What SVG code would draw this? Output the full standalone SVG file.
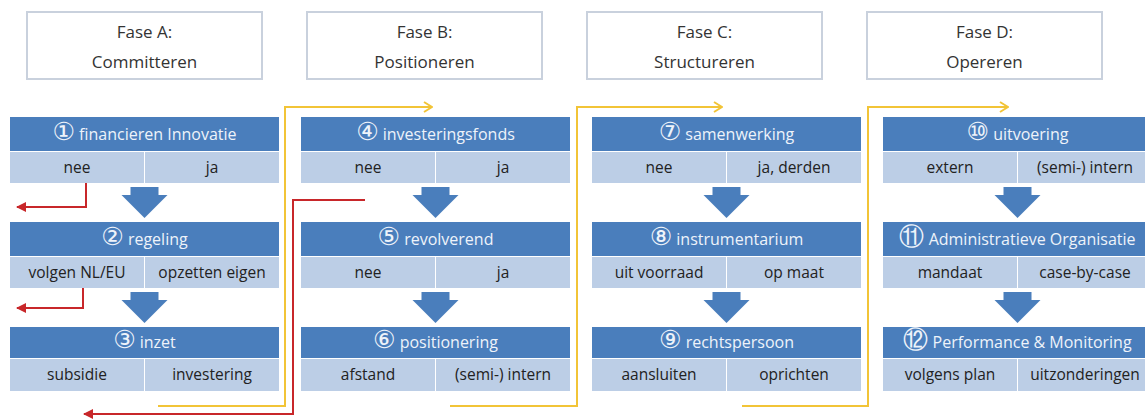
<svg xmlns="http://www.w3.org/2000/svg" width="1145" height="419" viewBox="0 0 1145 419">
<defs>
<style>
.hdr{fill:#ffffff;stroke:#c9d1dd;stroke-width:2}
.htx{font-family:"Open Sans","Liberation Sans",sans-serif;font-size:17px;fill:#333;text-anchor:middle}
.ttl{fill:#4a7ebc}
.ttx{font-family:"Open Sans","DejaVu Sans",sans-serif;font-size:16px;fill:#eef3fa;text-anchor:middle}
.num{font-family:"DejaVu Sans",sans-serif;font-size:25px}
.sub{fill:#bccee6}
.stx{font-family:"Open Sans","Liberation Sans",sans-serif;font-size:15.5px;fill:#222;text-anchor:middle}
.blk{fill:#4a7ebc}
.red{fill:none;stroke:#c8272a;stroke-width:2}
.yel{fill:none;stroke:#f2c437;stroke-width:2}
</style>
<marker id="ra" viewBox="0 0 10 10" refX="9" refY="5" markerWidth="11" markerHeight="10" markerUnits="userSpaceOnUse" orient="auto">
<path d="M0,0 L10,5 L0,10 z" fill="#c8272a"/>
</marker>
<marker id="ya" viewBox="0 0 10 12" refX="9" refY="6" markerWidth="10" markerHeight="12" markerUnits="userSpaceOnUse" orient="auto">
<path d="M1,1 L9,6 L1,11" fill="none" stroke="#f2c437" stroke-width="2"/>
</marker>
</defs>
<rect width="1145" height="419" fill="#ffffff"/>

<g id="faseA"><rect class="hdr" x="27" y="12" width="235" height="67"/><text class="htx" x="144.5" y="38">Fase A:</text><text class="htx" x="144.5" y="68">Committeren</text></g>
<g id="faseB"><rect class="hdr" x="307" y="12" width="235" height="67"/><text class="htx" x="424.5" y="38">Fase B:</text><text class="htx" x="424.5" y="68">Positioneren</text></g>
<g id="faseC"><rect class="hdr" x="587" y="12" width="235" height="67"/><text class="htx" x="704.5" y="38">Fase C:</text><text class="htx" x="704.5" y="68">Structureren</text></g>
<g id="faseD"><rect class="hdr" x="867" y="12" width="235" height="67"/><text class="htx" x="984.5" y="38">Fase D:</text><text class="htx" x="984.5" y="68">Opereren</text></g>

<g id="connectors">
<polyline class="yel" points="158,406 285,406 285,107 432,107" marker-end="url(#ya)"/>
<polyline class="yel" points="450,406 577,406 577,107 722,107" marker-end="url(#ya)"/>
<polyline class="yel" points="742,406 868,406 868,107 1008,107" marker-end="url(#ya)"/>
<polyline class="red" points="86,182 86,207 17,207" marker-end="url(#ra)"/>
<polyline class="red" points="83,288 83,308 17,308" marker-end="url(#ra)"/>
<polyline class="red" points="365,200 293,200 293,414 84,414" marker-end="url(#ra)"/>
<polygon class="blk" points="130.5,187 158.5,187 158.5,195 167.5,195 144.5,218 121.5,195 130.5,195"/>
<polygon class="blk" points="130.5,292 158.5,292 158.5,300 167.5,300 144.5,323 121.5,300 130.5,300"/>
<polygon class="blk" points="421.5,187 449.5,187 449.5,195 458.5,195 435.5,218 412.5,195 421.5,195"/>
<polygon class="blk" points="421.5,292 449.5,292 449.5,300 458.5,300 435.5,323 412.5,300 421.5,300"/>
<polygon class="blk" points="712.5,187 740.5,187 740.5,195 749.5,195 726.5,218 703.5,195 712.5,195"/>
<polygon class="blk" points="712.5,292 740.5,292 740.5,300 749.5,300 726.5,323 703.5,300 712.5,300"/>
<polygon class="blk" points="1003.5,187 1031.5,187 1031.5,195 1040.5,195 1017.5,218 994.5,195 1003.5,195"/>
<polygon class="blk" points="1003.5,292 1031.5,292 1031.5,300 1040.5,300 1017.5,323 994.5,300 1003.5,300"/>
</g>

<g id="q1"><rect class="ttl" x="10" y="117" width="269" height="34"/><text class="ttx" x="144.5" y="140"><tspan class="num">①</tspan> financieren Innovatie</text>
<rect class="sub" x="10" y="152" width="134" height="31"/><rect class="sub" x="145" y="152" width="134" height="31"/>
<text class="stx" x="77" y="173">nee</text><text class="stx" x="212" y="173">ja</text></g>
<g id="q2"><rect class="ttl" x="10" y="222" width="269" height="34"/><text class="ttx" x="144.5" y="245"><tspan class="num">②</tspan> regeling</text>
<rect class="sub" x="10" y="257" width="134" height="31"/><rect class="sub" x="145" y="257" width="134" height="31"/>
<text class="stx" x="77" y="278">volgen NL/EU</text><text class="stx" x="212" y="278">opzetten eigen</text></g>
<g id="q3"><rect class="ttl" x="10" y="327" width="269" height="31"/><text class="ttx" x="144.5" y="348"><tspan class="num">③</tspan> inzet</text>
<rect class="sub" x="10" y="359" width="134" height="32"/><rect class="sub" x="145" y="359" width="134" height="32"/>
<text class="stx" x="77" y="380">subsidie</text><text class="stx" x="212" y="380">investering</text></g>

<g id="q4"><rect class="ttl" x="301" y="117" width="269" height="34"/><text class="ttx" x="435.5" y="140"><tspan class="num">④</tspan> investeringsfonds</text>
<rect class="sub" x="301" y="152" width="134" height="31"/><rect class="sub" x="436" y="152" width="134" height="31"/>
<text class="stx" x="368" y="173">nee</text><text class="stx" x="503" y="173">ja</text></g>
<g id="q5"><rect class="ttl" x="301" y="222" width="269" height="34"/><text class="ttx" x="435.5" y="245"><tspan class="num">⑤</tspan> revolverend</text>
<rect class="sub" x="301" y="257" width="134" height="31"/><rect class="sub" x="436" y="257" width="134" height="31"/>
<text class="stx" x="368" y="278">nee</text><text class="stx" x="503" y="278">ja</text></g>
<g id="q6"><rect class="ttl" x="301" y="327" width="269" height="31"/><text class="ttx" x="435.5" y="348"><tspan class="num">⑥</tspan> positionering</text>
<rect class="sub" x="301" y="359" width="134" height="32"/><rect class="sub" x="436" y="359" width="134" height="32"/>
<text class="stx" x="368" y="380">afstand</text><text class="stx" x="503" y="380">(semi-) intern</text></g>

<g id="q7"><rect class="ttl" x="592" y="117" width="269" height="34"/><text class="ttx" x="726.5" y="140"><tspan class="num">⑦</tspan> samenwerking</text>
<rect class="sub" x="592" y="152" width="134" height="31"/><rect class="sub" x="727" y="152" width="134" height="31"/>
<text class="stx" x="659" y="173">nee</text><text class="stx" x="794" y="173">ja, derden</text></g>
<g id="q8"><rect class="ttl" x="592" y="222" width="269" height="34"/><text class="ttx" x="726.5" y="245"><tspan class="num">⑧</tspan> instrumentarium</text>
<rect class="sub" x="592" y="257" width="134" height="31"/><rect class="sub" x="727" y="257" width="134" height="31"/>
<text class="stx" x="659" y="278">uit voorraad</text><text class="stx" x="794" y="278">op maat</text></g>
<g id="q9"><rect class="ttl" x="592" y="327" width="269" height="31"/><text class="ttx" x="726.5" y="348"><tspan class="num">⑨</tspan> rechtspersoon</text>
<rect class="sub" x="592" y="359" width="134" height="32"/><rect class="sub" x="727" y="359" width="134" height="32"/>
<text class="stx" x="659" y="380">aansluiten</text><text class="stx" x="794" y="380">oprichten</text></g>

<g id="q10"><rect class="ttl" x="883" y="117" width="269" height="34"/><text class="ttx" x="1017.5" y="140"><tspan class="num">⑩</tspan> uitvoering</text>
<rect class="sub" x="883" y="152" width="134" height="31"/><rect class="sub" x="1018" y="152" width="134" height="31"/>
<text class="stx" x="950" y="173">extern</text><text class="stx" x="1085" y="173">(semi-) intern</text></g>
<g id="q11"><rect class="ttl" x="883" y="222" width="269" height="34"/><text class="ttx" x="1017.5" y="245"><tspan class="num">⑪</tspan> Administratieve Organisatie</text>
<rect class="sub" x="883" y="257" width="134" height="31"/><rect class="sub" x="1018" y="257" width="134" height="31"/>
<text class="stx" x="950" y="278">mandaat</text><text class="stx" x="1085" y="278">case-by-case</text></g>
<g id="q12"><rect class="ttl" x="883" y="327" width="269" height="31"/><text class="ttx" x="1017.5" y="348"><tspan class="num">⑫</tspan> Performance &amp; Monitoring</text>
<rect class="sub" x="883" y="359" width="134" height="32"/><rect class="sub" x="1018" y="359" width="134" height="32"/>
<text class="stx" x="950" y="380">volgens plan</text><text class="stx" x="1085" y="380">uitzonderingen</text></g>
</svg>
